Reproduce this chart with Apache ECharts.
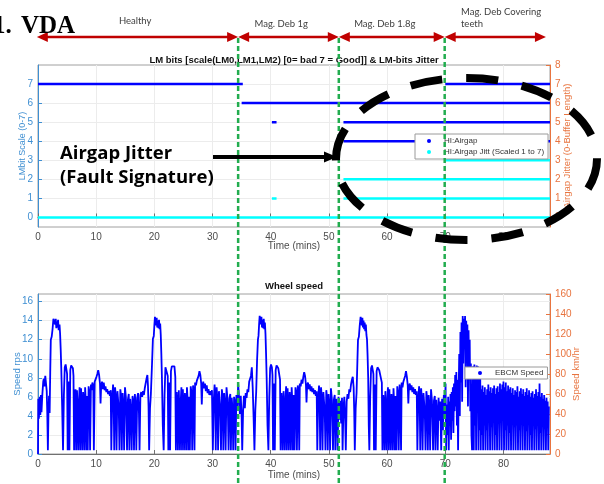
<!DOCTYPE html>
<html><head><meta charset="utf-8">
<script src="https://cdn.jsdelivr.net/npm/echarts@6/dist/echarts.min.js"></script>
<style>html,body{margin:0;padding:0;background:#fff}#c{width:604px;height:484px}</style>
</head><body><div id="c"></div>
<script>
const xTicks = [0,10,20,30,40,50,60,70,80];
const lmTicks = [0,1,2,3,4,5,6,7];
const jitterTicks = [0,1,2,3,4,5,6,7,8];
const rpsTicks = [0,2,4,6,8,10,12,14,16];
const kmhTicks = [0,20,40,60,80,100,120,140,160];

// [start min, end min, level]
const airgapSegments = [[0,35.2,7],[35.0,88,6],[40.2,41.0,5],[52.5,88,5],[52.5,88,4],[70.0,88,7]];
const jitterSegments = [[0,88,0],[40.2,41.0,1],[52.5,88,1],[52.5,88,2],[70.0,88,3]];

const faultOnsets = [34.4, 51.7, 69.9];
const phaseStarts = [-0.2, 34.4, 51.7, 69.9];
const phaseEnds = [34.4, 51.7, 69.9, 87.3];
const phaseLabels = ['Healthy','Mag. Deb 1g','Mag. Deb 1.8g','Mag. Deb Covering\nteeth'];
const phaseLabelAt = [16.7, 41.8, 59.6, 72.7];

// wheel speed [time min, rps]
const wheel1 = [[0,0],[0.05,5.8],[0.15,3.7],[0.3,6.0],[0.4,4.1],[0.5,6.2],[0.6,4.4],[0.75,6.3],[0.9,7.6],[1.0,7.9],[1.1,7.1],[1.25,8.2],[1.4,8.3],[1.5,6.6],[1.6,4.2],[1.7,0.4],[1.8,4.4],[1.9,6.1],[2.0,4.3],[2.1,8.5],[2.2,12.0],[2.35,12.3],[2.5,13.1],[2.65,14.2],[2.8,14.4],[2.95,13.6],[3.05,14.2],[3.15,13.2],[3.25,13.9],[3.35,13.3],[3.45,14.1],[3.55,13.0],[3.7,13.6],[3.8,12.6],[3.9,11.0],[4.0,9.0],[4.15,5.0],[4.3,0.4],[4.45,6.2],[4.6,9.1],[4.75,9.4],[4.9,9.2],[5.0,8.4],[5.1,0.4],[5.2,5.2],[5.3,7.6],[5.4,0.4],[5.55,8.8],[5.7,9.3],[5.85,9.2],[6.0,9.0],[6.1,8.2],[6.2,0.4],[6.35,6.3],[6.45,6.8],[6.55,0.4],[6.7,6.7],[6.8,4.8],[6.9,0.4],[7.05,5.6],[7.15,7.0],[7.25,0.4],[7.4,6.9],[7.5,4.6],[7.6,0.4],[7.75,6.5],[7.85,5.3],[7.95,0.4],[8.1,7.0],[8.2,5.7],[8.3,0.4],[8.45,6.1],[8.55,0.4],[8.7,7.1],[8.85,6.4],[8.95,0.4],[9.1,7.3],[9.2,6.7],[9.35,7.5],[9.5,7.2],[9.6,0.4],[9.75,7.6],[9.9,7.4],[10.05,8.1],[10.2,8.4],[10.35,8.8],[10.5,8.3],[10.65,7.4],[10.75,5.3],[10.85,7.0],[11.0,7.6],[11.15,6.8],[11.3,7.5],[11.45,6.7],[11.6,7.1],[11.75,6.5],[11.9,6.8],[12.05,6.3],[12.2,6.6],[12.35,6.1],[12.5,6.7],[12.6,0.4],[12.75,5.6],[12.9,7.3],[13.0,6.1],[13.1,0.4],[13.25,7.0],[13.4,5.7],[13.5,0.4],[13.65,6.6],[13.8,5.4],[13.9,4.1],[14.0,0.4],[14.15,6.8],[14.3,6.0],[14.4,0.4],[14.55,6.4],[14.7,4.9],[14.8,0.4],[14.95,7.0],[15.1,6.0],[15.2,4.0],[15.3,0.4],[15.45,5.7],[15.6,6.3],[15.7,0.4],[15.85,5.8],[16.0,4.4],[16.1,0.4],[16.25,6.1],[16.4,5.5],[16.5,0.4],[16.65,6.3],[16.8,5.0],[16.9,0.4],[17.05,5.9],[17.2,6.4],[17.35,4.3],[17.45,0.4],[17.6,6.2],[17.75,6.5],[17.9,6.0],[18.05,6.6],[18.2,6.2],[18.35,6.9],[18.5,7.4],[18.65,7.9],[18.8,8.3],[18.9,7.2],[19.0,5.0],[19.1,0.4]];
const wheel2 = [[19.25,4.8],[19.4,6.3],[19.6,9.5],[19.75,12.1],[19.9,12.4],[20.0,13.5],[20.1,14.4],[20.2,14.2],[20.3,13.5],[20.4,14.3],[20.5,13.3],[20.6,14.0],[20.7,13.2],[20.8,14.1],[20.9,13.1],[21.0,13.7],[21.1,12.5],[21.2,10.5],[21.3,8.0],[21.45,3.0],[21.6,0.4],[21.75,6.2],[21.9,9.1],[22.05,9.3],[22.2,9.0],[22.3,8.2],[22.4,0.4],[22.5,5.4],[22.6,7.5],[22.7,0.4],[22.85,8.7],[23.0,9.2],[23.15,9.3],[23.3,9.0],[23.45,9.2],[23.6,8.1],[23.7,0.4],[23.85,6.5],[23.95,5.2],[24.05,0.4],[24.2,6.7],[24.3,4.6],[24.4,0.4],[24.55,5.8],[24.65,7.0],[24.75,0.4],[24.9,6.8],[25.0,4.8],[25.1,0.4],[25.25,6.4],[25.35,5.4],[25.45,0.4],[25.6,7.0],[25.7,5.8],[25.8,0.4],[25.95,6.0],[26.1,0.4],[26.25,7.1],[26.4,6.3],[26.5,0.4],[26.65,7.2],[26.75,6.6],[26.9,0.4],[27.0,7.5],[27.15,7.2],[27.3,7.7],[27.45,7.5],[27.6,8.2],[27.75,8.7],[27.9,8.3],[28.05,7.4],[28.15,5.2],[28.25,7.0],[28.4,7.6],[28.55,6.9],[28.7,7.4],[28.85,6.6],[29.0,7.2],[29.15,6.4],[29.3,6.8],[29.45,6.2],[29.6,6.6],[29.75,6.2],[29.9,6.7],[30.05,0.4],[30.2,5.5],[30.35,7.3],[30.45,6.0],[30.55,0.4],[30.7,7.0],[30.85,5.6],[30.95,0.4],[31.1,6.6],[31.25,5.3],[31.35,4.0],[31.45,0.4],[31.6,6.8],[31.75,5.9],[31.85,0.4],[32.0,6.4],[32.15,5.0],[32.25,0.4],[32.4,7.0],[32.55,5.9],[32.65,4.0],[32.75,0.4],[32.9,5.8],[33.05,6.3],[33.15,0.4],[33.3,5.9],[33.45,4.5],[33.55,0.4],[33.7,6.0],[33.85,5.4],[33.95,0.4],[34.1,6.2],[34.25,4.6],[34.4,7.4],[34.55,6.0],[34.7,4.2],[34.85,6.1],[35.0,3.8],[35.1,0.4],[35.25,4.5],[35.4,6.1],[35.55,4.8],[35.7,6.4],[35.85,5.9],[36.0,6.8],[36.15,6.5],[36.3,7.6],[36.45,7.9],[36.6,8.2],[36.75,9.1],[36.9,7.0],[37.05,4.0],[37.2,0.4]];
const wheel3 = [[37.35,4.6],[37.5,6.5],[37.65,9.8],[37.8,12.0],[37.9,12.4],[38.0,13.6],[38.1,14.5],[38.2,14.3],[38.3,13.6],[38.4,14.4],[38.5,13.3],[38.6,14.1],[38.7,13.2],[38.8,14.2],[38.9,13.1],[39.0,13.8],[39.1,12.6],[39.2,10.5],[39.3,8.0],[39.45,3.0],[39.6,0.4],[39.75,6.0],[39.9,9.0],[40.05,9.4],[40.2,9.1],[40.3,8.3],[40.4,0.4],[40.5,5.6],[40.6,7.4],[40.7,0.4],[40.85,8.8],[41.0,9.3],[41.15,9.2],[41.3,9.0],[41.45,9.1],[41.6,7.8],[41.7,0.4],[41.85,6.4],[41.95,5.0],[42.05,0.4],[42.2,6.6],[42.3,4.5],[42.4,0.4],[42.55,6.0],[42.65,7.1],[42.75,0.4],[42.9,6.9],[43.0,4.7],[43.1,0.4],[43.25,6.5],[43.35,5.2],[43.45,0.4],[43.6,7.0],[43.7,5.6],[43.8,0.4],[43.95,6.2],[44.1,0.4],[44.25,7.0],[44.4,6.4],[44.5,0.4],[44.65,7.2],[44.75,6.5],[44.9,0.4],[45.0,7.4],[45.15,7.1],[45.3,7.8],[45.45,7.4],[45.6,8.1],[45.75,8.6],[45.9,8.2],[46.05,7.3],[46.15,5.4],[46.25,7.1],[46.4,7.5],[46.55,6.8],[46.7,7.3],[46.85,6.6],[47.0,7.1],[47.15,6.5],[47.3,6.9],[47.45,6.3],[47.6,6.7],[47.75,6.1],[47.9,6.6],[48.0,0.4],[48.15,5.6],[48.3,7.2],[48.4,6.0],[48.5,0.4],[48.65,7.0],[48.8,5.6],[48.9,0.4],[49.05,6.5],[49.2,5.2],[49.3,4.0],[49.4,0.4],[49.55,6.7],[49.7,5.8],[49.8,0.4],[49.95,6.3],[50.1,5.0],[50.2,0.4],[50.35,6.9],[50.5,5.8],[50.6,3.9],[50.7,0.4],[50.85,5.7],[51.0,6.2],[51.1,0.4],[51.25,5.8],[51.4,4.4],[51.5,0.4],[51.65,6.0],[51.8,3.6],[51.95,5.6],[52.1,3.2],[52.25,5.9],[52.35,0.4],[52.5,4.8],[52.65,6.0],[52.8,3.5],[52.9,0.4],[53.05,5.5],[53.2,6.3],[53.35,5.8],[53.5,6.8],[53.65,6.5],[53.8,7.3],[53.95,7.8],[54.1,8.1],[54.25,7.0],[54.35,4.5],[54.45,0.4]];
const wheel4 = [[54.6,4.8],[54.75,6.4],[54.9,9.8],[55.0,12.0],[55.15,12.3],[55.3,13.5],[55.45,14.4],[55.55,14.2],[55.65,13.5],[55.75,14.3],[55.85,13.3],[55.95,14.0],[56.05,13.1],[56.15,13.8],[56.25,12.9],[56.35,13.6],[56.45,12.5],[56.55,12.0],[56.65,10.3],[56.75,8.0],[56.85,3.0],[56.95,0.4],[57.1,6.1],[57.25,9.0],[57.4,9.3],[57.55,9.1],[57.65,8.4],[57.75,0.4],[57.85,5.1],[57.95,7.3],[58.05,0.4],[58.2,8.7],[58.35,9.1],[58.5,9.0],[58.65,8.8],[58.8,9.0],[58.95,8.6],[59.1,7.5],[59.2,0.4],[59.35,6.2],[59.45,5.0],[59.55,0.4],[59.7,6.6],[59.8,4.3],[59.9,0.4],[60.05,5.9],[60.15,7.0],[60.25,0.4],[60.4,6.8],[60.5,4.6],[60.6,0.4],[60.75,6.3],[60.85,5.1],[60.95,0.4],[61.1,6.9],[61.2,5.5],[61.3,0.4],[61.45,6.1],[61.6,0.4],[61.75,7.1],[61.9,6.2],[62.0,0.4],[62.15,7.3],[62.25,6.4],[62.4,0.4],[62.5,7.5],[62.65,7.0],[62.8,7.6],[62.95,7.4],[63.1,8.2],[63.25,8.7],[63.4,8.1],[63.55,7.2],[63.65,5.3],[63.75,7.0],[63.9,7.4],[64.05,6.7],[64.2,7.2],[64.35,6.5],[64.5,7.0],[64.65,6.3],[64.8,6.8],[64.95,6.2],[65.1,6.6],[65.2,0.4],[65.35,5.5],[65.5,7.1],[65.6,5.9],[65.7,0.4],[65.85,6.9],[66.0,5.5],[66.1,0.4],[66.25,6.4],[66.4,5.1],[66.5,3.8],[66.6,0.4],[66.75,6.6],[66.9,5.7],[67.0,0.4],[67.15,6.2],[67.3,4.9],[67.4,0.4],[67.55,6.8],[67.7,5.7],[67.8,3.8],[67.9,0.4],[68.05,5.6],[68.2,6.1],[68.3,0.4],[68.45,5.7],[68.6,4.3],[68.7,0.4],[68.85,5.9],[69.0,3.5],[69.15,5.5],[69.3,0.4],[69.45,5.8],[69.6,2.5],[69.75,6.2],[69.9,3.8],[70.05,7.4],[70.15,0.4]];
const wheel5 = [[70.3,5.2],[70.4,2.0],[70.5,6.0],[70.6,0.4],[70.7,5.5],[70.8,3.0],[70.9,6.3],[71.0,1.5],[71.1,6.5],[71.2,3.5],[71.3,7.0],[71.4,2.2],[71.5,7.4],[71.6,4.5],[71.7,8.3],[71.8,5.0],[71.9,8.6],[72.0,3.0],[72.1,7.8],[72.2,0.4],[72.3,6.5],[72.4,10.5],[72.5,4.0],[72.6,12.8],[72.7,7.5],[72.8,13.8],[72.9,5.5],[73.0,14.5],[73.1,9.5],[73.2,14.2],[73.3,11.0],[73.4,14.5],[73.5,7.0],[73.6,14.0],[73.7,10.0],[73.8,13.6],[73.9,5.0],[74.0,13.0],[74.1,8.5],[74.2,12.0],[74.3,4.5],[74.4,9.5],[74.5,2.0],[74.6,0.4],[74.7,6.0],[74.8,9.2],[74.9,0.4],[75.0,9.4],[75.1,3.0],[75.2,9.0],[75.3,0.4],[75.4,9.3],[75.5,5.0],[75.6,9.2],[75.7,0.4],[75.8,9.0],[75.9,2.5],[76.0,8.8],[76.1,0.4],[76.2,6.8],[76.3,2.0],[76.4,7.2],[76.5,0.4],[76.6,6.5],[76.7,3.0],[76.8,7.0],[76.9,0.4],[77.0,6.2],[77.1,2.5],[77.2,6.8],[77.3,0.4],[77.4,7.3],[77.5,3.5],[77.6,6.6],[77.7,0.4],[77.8,7.0],[77.9,2.8],[78.0,6.4],[78.1,0.4],[78.2,6.9],[78.3,4.0],[78.4,7.2],[78.5,0.4],[78.6,6.3],[78.7,2.0],[78.8,6.9],[78.9,0.4],[79.0,7.1],[79.1,3.2],[79.2,6.5],[79.3,0.4],[79.4,7.4],[79.5,4.2],[79.6,6.8],[79.7,0.4],[79.8,7.3],[79.9,5.0],[80.0,7.6],[80.1,0.4],[80.2,7.0],[80.3,2.5],[80.4,7.5],[80.5,0.4],[80.6,6.6],[80.7,3.0],[80.8,7.2],[80.9,0.4],[81.0,6.8],[81.1,2.2],[81.2,7.0],[81.3,0.4],[81.4,6.4],[81.5,3.5],[81.6,6.9],[81.7,0.4],[81.8,6.2],[81.9,2.8],[82.0,6.7],[82.1,0.4],[82.2,6.5],[82.3,3.0],[82.4,7.1],[82.5,0.4],[82.6,6.0],[82.7,2.5],[82.8,6.6],[82.9,0.4],[83.0,6.9],[83.1,4.0],[83.2,6.3],[83.3,0.4],[83.4,6.8],[83.5,3.0],[83.6,6.1],[83.7,0.4],[83.8,6.5],[83.9,2.4],[84.0,6.9],[84.1,0.4],[84.2,6.2],[84.3,3.6],[84.4,6.7],[84.5,0.4],[84.6,6.0],[84.7,2.0],[84.8,6.4],[84.9,0.4],[85.0,6.6],[85.1,3.3],[85.2,5.9],[85.3,0.4],[85.4,6.3],[85.5,2.6],[85.6,6.8],[85.7,0.4],[85.8,6.1],[85.9,3.0],[86.0,6.5],[86.1,0.4],[86.2,7.4],[86.3,2.2],[86.4,6.0],[86.5,0.4],[86.6,6.4],[86.7,3.4],[86.8,5.8],[86.9,0.4],[87.0,6.2],[87.1,2.6],[87.2,5.6],[87.3,0.4],[87.4,5.9],[87.5,3.1],[87.6,5.5],[87.7,0.4],[87.8,5.0]];

const BLUE_AX = '#3f8fd2', ORANGE_AX = '#e8743f', GRIDC = '#ececec', TXT = '#4d4d4d';
const FONT = 'Liberation Sans';

const chart = echarts.init(document.getElementById('c'), null, {renderer: 'canvas'});

function xAx(gi, nameGap) {
  return {
    type: 'value', gridIndex: gi, min: 0, max: 88,
    axisLine: {show: true, lineStyle: {color: '#707070', width: 1}},
    axisTick: {show: true, inside: true, length: 4, customValues: xTicks, lineStyle: {color: '#707070'}},
    axisLabel: {customValues: xTicks, color: TXT, fontSize: 10, fontFamily: FONT, margin: 5},
    splitLine: {show: true, lineStyle: {color: GRIDC, width: 1}},
    name: 'Time (mins)', nameLocation: 'middle', nameGap: nameGap, nameMoveOverlap: false,
    nameTextStyle: {color: TXT, fontSize: 10, fontFamily: FONT}
  };
}
function yAx(gi, pos, min, max, ticks, color, name, nameGap, grid, nameSize) {
  return {
    type: 'value', gridIndex: gi, position: pos, min: min, max: max,
    axisLine: {show: true, lineStyle: {color: color, width: 1}},
    axisTick: {show: true, inside: true, length: 4, customValues: ticks, lineStyle: {color: color}},
    axisLabel: {customValues: ticks, color: color, fontSize: 10, fontFamily: FONT, margin: 5},
    splitLine: {show: grid, lineStyle: {color: GRIDC, width: 1}},
    name: name, nameLocation: 'middle', nameGap: nameGap, nameRotate: 90, nameMoveOverlap: false,
    nameTextStyle: {color: color, fontSize: nameSize, fontFamily: FONT}
  };
}

const series = [];
airgapSegments.forEach(s => series.push({
  type: 'line', name: 'HI:Airgap', xAxisIndex: 0, yAxisIndex: 0,
  data: [[s[0], s[2]], [s[1], s[2]]], symbol: 'none', silent: true,
  lineStyle: {color: '#0000ff', width: 2.5}, itemStyle: {color: '#0000ff'}, z: 3
}));
jitterSegments.forEach(s => series.push({
  type: 'line', name: 'HI:Airgap Jitt (Scaled 1 to 7)', xAxisIndex: 0, yAxisIndex: 1,
  data: [[s[0], s[2]], [s[1], s[2]]], symbol: 'none', silent: true,
  lineStyle: {color: '#00ffff', width: 2.5}, itemStyle: {color: '#00ffff'}, z: 3
}));
series.push({
  type: 'line', name: 'EBCM Speed', xAxisIndex: 1, yAxisIndex: 2,
  data: wheel1.concat(wheel2, wheel3, wheel4, wheel5), symbol: 'none', silent: true,
  lineStyle: {color: '#0000ff', width: 1.8}, itemStyle: {color: '#0000ff'}, z: 3
});

const legendBase = {
  orient: 'vertical', icon: 'circle', itemWidth: 4, itemHeight: 4, itemGap: 3,
  backgroundColor: '#fff', borderColor: '#9a9a9a', borderWidth: 1, borderRadius: 0,
  textStyle: {color: '#333', fontSize: 8, fontFamily: FONT, padding: [0, 0, 0, 8]},
  selectedMode: false, z: 10
};

chart.setOption({
  animation: false,
  backgroundColor: '#fff',
  title: [
    {text: 'LM bits [scale(LM0,LM1,LM2) [0= bad 7 = Good]] & LM-bits Jitter', left: 294, top: 55, textAlign: 'center', padding: 0,
     textStyle: {fontSize: 9.5, fontWeight: 'bold', color: '#111', fontFamily: FONT}},
    {text: 'Wheel speed', left: 294, top: 281, textAlign: 'center', padding: 0,
     textStyle: {fontSize: 9.5, fontWeight: 'bold', color: '#111', fontFamily: FONT}}
  ],
  grid: [
    {left: 38, right: 54, top: 65, height: 162, show: true, borderColor: '#a0a0a0', borderWidth: 1, containLabel: false, outerBoundsMode: 'none'},
    {left: 38, right: 54, top: 294, height: 160, show: true, borderColor: '#a0a0a0', borderWidth: 1, containLabel: false, outerBoundsMode: 'none'}
  ],
  xAxis: [xAx(0, 14), xAx(1, 16)],
  yAxis: [
    yAx(0, 'left', -0.5, 8, lmTicks, BLUE_AX, 'LMbit Scale (0-7)', 11, true, 9),
    yAx(0, 'right', -0.5, 8, jitterTicks, ORANGE_AX, 'Airgap Jitter (0-Buffer Length)', 12, false, 9.5),
    yAx(1, 'left', 0, 16.8, rpsTicks, BLUE_AX, 'Speed rps', 16, true, 9.5),
    yAx(1, 'right', 0, 160, kmhTicks, ORANGE_AX, 'Speed km/hr', 21, false, 9.5)
  ],
  legend: [
    Object.assign({}, legendBase, {data: ['HI:Airgap', 'HI:Airgap Jitt (Scaled 1 to 7)'], left: 415, top: 134, padding: [3, 4, 3, 12]}),
    Object.assign({}, legendBase, {data: ['EBCM Speed'], left: 465, top: 367, padding: [2, 4, 2, 13]})
  ],
  series: series
});

// annotations
const px = t => chart.convertToPixel({xAxisIndex: 0}, t);
const g = [];
const RED = '#c00000', AY = 37;
phaseStarts.forEach((t0, i) => {
  const x0 = px(t0), x1 = px(phaseEnds[i]);
  g.push({type: 'line', shape: {x1: x0 + 7, y1: AY, x2: x1 - 7, y2: AY}, style: {stroke: RED, lineWidth: 2.5}, z: 50});
  g.push({type: 'polygon', shape: {points: [[x0, AY], [x0 + 11, AY - 5], [x0 + 11, AY + 5]]}, style: {fill: RED}, z: 50});
  g.push({type: 'polygon', shape: {points: [[x1, AY], [x1 - 11, AY - 5], [x1 - 11, AY + 5]]}, style: {fill: RED}, z: 50});
  const last = i === phaseLabels.length - 1;
  g.push({type: 'text', x: px(phaseLabelAt[i]), y: last ? 18 : (i === 0 ? 21 : 24), z: 50,
    style: {text: phaseLabels[i], fill: '#404040', font: '9.5px Lato', align: last ? 'left' : 'center', verticalAlign: 'middle', lineHeight: 12}});
});
faultOnsets.forEach(t => {
  const x = px(t);
  g.push({type: 'line', shape: {x1: x, y1: 38, x2: x, y2: 484}, style: {stroke: '#22ad4f', lineWidth: 2.5, lineDash: [5, 3]}, z: 60});
});
g.push({type: 'text', x: -7, y: 14, z: 70, style: {text: '1.', fill: '#000', font: 'bold 25px "Liberation Serif"', verticalAlign: 'alphabetic'}});
g.push({type: 'text', x: 21, y: 14, z: 70, style: {text: 'VDA', fill: '#000', font: 'bold 25px "Liberation Serif"', verticalAlign: 'alphabetic'}});
g.push({type: 'text', x: 60, y: 166, z: 70, style: {text: 'Airgap Jitter\n(Fault Signature)', fill: '#000', font: 'bold 18.5px "Open Sans"', lineHeight: 24, verticalAlign: 'middle'}});
g.push({type: 'line', shape: {x1: 213, y1: 157, x2: 327, y2: 157}, style: {stroke: '#000', lineWidth: 4}, z: 70});
g.push({type: 'polygon', shape: {points: [[337, 157], [324, 151.5], [324, 162.5]]}, style: {fill: '#000'}, z: 70});
g.push({type: 'ellipse', shape: {cx: 466.5, cy: 159, rx: 130.5, ry: 81}, style: {fill: null, stroke: '#000', lineWidth: 8, lineDash: [32, 24], lineCap: 'butt'}, z: 80});
chart.setOption({graphic: g});
</script></body></html>
